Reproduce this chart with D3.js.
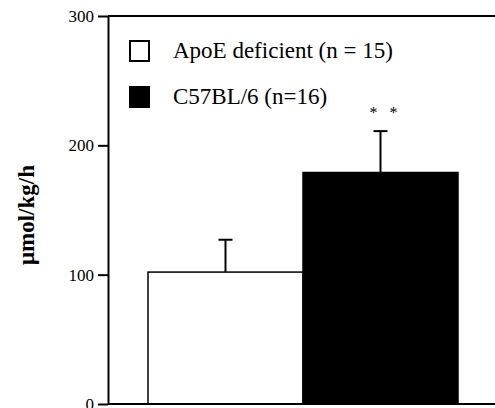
<!DOCTYPE html>
<html>
<head>
<meta charset="utf-8">
<script src="https://cdn.jsdelivr.net/npm/d3@7"></script>
<style>
  body { margin: 0; background: white; }
  svg { display: block; }
  svg text { font-family: "Liberation Serif", "Times New Roman", "DejaVu Serif", serif; }
</style>
</head>
<body>
<div id="chart"></div>
<script>
var GROUPS = ["ApoE deficient (n = 15)", "C57BL/6 (n=16)"];
var MEANS = [102, 179];
var ERRORS = [25, 32];
var FILLS = ["white", "black"];
var Y_TICKS = [0, 100, 200, 300];
var Y_LABEL = "\u03bcmol/kg/h";
var SIG_MARK = "*   *";

var MARGIN = {left: 108, right: 0, top: 16, bottom: 4};
var W = 495, H = 408;
var width = W - MARGIN.left - MARGIN.right;
var height = H - MARGIN.top - MARGIN.bottom;
var SERIF = "'Liberation Serif', 'Times New Roman', 'DejaVu Serif', serif";

var svg = d3.select("#chart").append("svg")
    .attr("width", W)
    .attr("height", H)
  .append("g")
    .attr("transform", "translate(" + MARGIN.left + "," + MARGIN.top + ")");

var yScale = d3.scaleLinear().domain([0, 300]).range([height, 0]);
var xScale = d3.scaleBand().domain(GROUPS).range([40, 350]).padding(0);

// bars
svg.selectAll("rect.bar")
    .data(GROUPS)
    .enter().append("rect")
    .attr("class", "bar")
    .attr("x", function(d) { return xScale(d); })
    .attr("y", function(d, i) { return yScale(MEANS[i]); })
    .attr("width", xScale.bandwidth())
    .attr("height", function(d, i) { return yScale(0) - yScale(MEANS[i]); })
    .attr("fill", function(d, i) { return FILLS[i]; })
    .attr("stroke", "black")
    .attr("stroke-width", 1.5);

// error bars (upper only)
GROUPS.forEach(function(g, i) {
    var cx = xScale(g) + xScale.bandwidth() / 2;
    var top = yScale(MEANS[i] + ERRORS[i]);
    svg.append("line")
        .attr("x1", cx).attr("x2", cx)
        .attr("y1", yScale(MEANS[i])).attr("y2", top)
        .attr("stroke", "black").attr("stroke-width", 2);
    svg.append("line")
        .attr("x1", cx - 7).attr("x2", cx + 7)
        .attr("y1", top).attr("y2", top)
        .attr("stroke", "black").attr("stroke-width", 2);
});

// significance stars
var cx2 = xScale(GROUPS[1]) + xScale.bandwidth() / 2;
svg.append("text")
    .attr("x", cx2 + 3)
    .attr("y", yScale(MEANS[1] + ERRORS[1]) - 13)
    .attr("text-anchor", "middle")
    .style("font-family", SERIF)
    .attr("font-size", 16)
    .style("white-space", "pre")
    .text(SIG_MARK);

// y axis
var yAxis = svg.append("g")
    .call(d3.axisLeft(yScale)
        .tickValues(Y_TICKS)
        .tickSize(10)
        .tickSizeOuter(0)
        .tickPadding(4));
yAxis.select(".domain").attr("stroke-width", 2);
yAxis.selectAll(".tick line").attr("stroke-width", 2);
yAxis.selectAll(".tick text")
    .style("font-family", SERIF)
    .attr("font-size", 17)
    .attr("fill", "black");

// frame: top and bottom lines
svg.append("line")
    .attr("x1", 0).attr("x2", width)
    .attr("y1", yScale(300)).attr("y2", yScale(300))
    .attr("stroke", "black").attr("stroke-width", 2);
svg.append("line")
    .attr("x1", 0).attr("x2", width)
    .attr("y1", yScale(0)).attr("y2", yScale(0))
    .attr("stroke", "black").attr("stroke-width", 2);

// y label
svg.append("text")
    .attr("transform", "rotate(-90)")
    .attr("x", -(215 - MARGIN.top))
    .attr("y", -MARGIN.left + 34)
    .attr("text-anchor", "middle")
    .style("font-family", SERIF)
    .attr("font-weight", "bold")
    .attr("font-size", 23)
    .text(Y_LABEL);

// legend
var legend = svg.append("g").attr("transform", "translate(22,25)");
GROUPS.forEach(function(g, i) {
    var row = legend.append("g").attr("transform", "translate(0," + (i * 46) + ")");
    row.append("rect")
        .attr("x", 0).attr("y", 0)
        .attr("width", 19).attr("height", 20)
        .attr("fill", FILLS[i])
        .attr("stroke", "black")
        .attr("stroke-width", 2);
    row.append("text")
        .attr("x", 43).attr("y", 17)
        .style("font-family", SERIF)
        .attr("font-size", 23)
        .text(g);
});
</script>
</body>
</html>
